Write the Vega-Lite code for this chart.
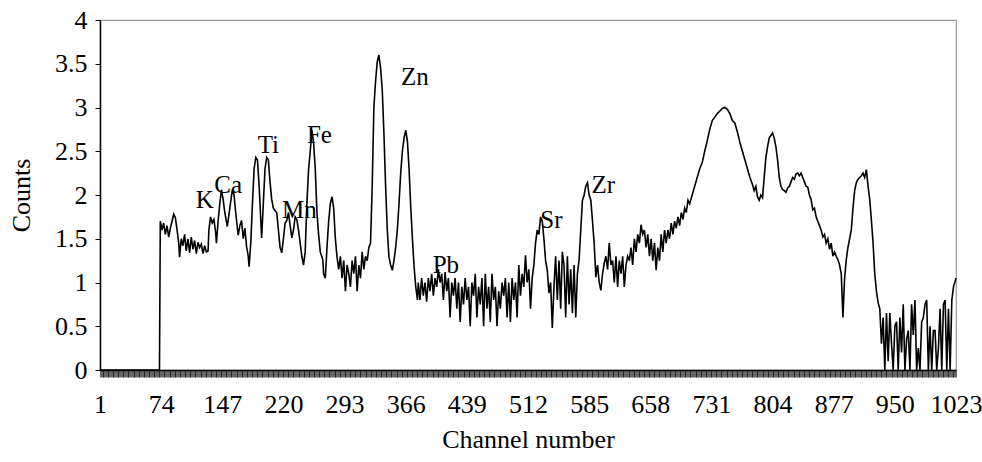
{
"$schema":"https://vega.github.io/schema/vega-lite/v6.json",
"width":856,"height":350,
"autosize":"none",
"padding":{"left":100,"top":20,"right":26,"bottom":92},
"background":"white",
"config":{"view":{"stroke":"#999","strokeWidth":1.2},"font":"Liberation Serif"},
"datasets":{
"spectrum":[
{"ch":1,"v":0},{"ch":72,"v":0},{"ch":73,"v":1.7},{"ch":75,"v":1.6},{"ch":77,"v":1.68},{"ch":79,"v":1.55},{"ch":81,"v":1.65},{"ch":83,"v":1.52},{"ch":85,"v":1.62},{"ch":87,"v":1.7},{"ch":89,"v":1.78},{"ch":91,"v":1.74},{"ch":93,"v":1.6},{"ch":95,"v":1.45},{"ch":96,"v":1.29},{"ch":98,"v":1.5},{"ch":100,"v":1.42},{"ch":102,"v":1.55},{"ch":104,"v":1.36},{"ch":106,"v":1.5},{"ch":108,"v":1.34},{"ch":110,"v":1.52},{"ch":112,"v":1.38},{"ch":114,"v":1.48},{"ch":116,"v":1.33},{"ch":118,"v":1.46},{"ch":120,"v":1.4},{"ch":122,"v":1.44},{"ch":124,"v":1.33},{"ch":126,"v":1.42},{"ch":128,"v":1.35},{"ch":130,"v":1.36},
{"ch":131,"v":1.6},{"ch":133,"v":1.75},{"ch":135,"v":1.68},{"ch":137,"v":1.72},{"ch":139,"v":1.58},{"ch":140,"v":1.45},{"ch":142,"v":1.7},{"ch":144,"v":1.9},{"ch":146,"v":2.06},{"ch":148,"v":1.95},{"ch":150,"v":1.8},{"ch":153,"v":1.64},{"ch":156,"v":1.85},{"ch":159,"v":2.06},{"ch":161,"v":2.0},{"ch":163,"v":1.8},{"ch":166,"v":1.54},{"ch":168,"v":1.65},{"ch":170,"v":1.71},{"ch":172,"v":1.5},{"ch":174,"v":1.62},{"ch":176,"v":1.41},{"ch":178,"v":1.3},{"ch":179,"v":1.18},{"ch":181,"v":1.45},{"ch":183,"v":1.9},{"ch":185,"v":2.3},{"ch":187,"v":2.43},{"ch":189,"v":2.4},{"ch":191,"v":2.1},{"ch":194,"v":1.51},{"ch":196,"v":1.9},{"ch":198,"v":2.3},{"ch":200,"v":2.43},{"ch":202,"v":2.4},{"ch":204,"v":2.15},{"ch":206,"v":1.95},{"ch":208,"v":1.85},{"ch":210,"v":1.82},{"ch":212,"v":1.8},{"ch":214,"v":1.6},{"ch":216,"v":1.4},{"ch":218,"v":1.34},{"ch":220,"v":1.5},{"ch":222,"v":1.68},{"ch":224,"v":1.71},{"ch":226,"v":1.8},{"ch":228,"v":1.65},{"ch":230,"v":1.51},{"ch":232,"v":1.6},{"ch":234,"v":1.75},{"ch":236,"v":1.72},{"ch":238,"v":1.6},{"ch":240,"v":1.45},{"ch":242,"v":1.3},{"ch":244,"v":1.2},{"ch":246,"v":1.35},{"ch":248,"v":1.9},{"ch":250,"v":2.29},{"ch":252,"v":2.5},{"ch":254,"v":2.74},{"ch":256,"v":2.6},{"ch":258,"v":2.3},{"ch":260,"v":1.8},{"ch":262,"v":1.55},{"ch":264,"v":1.35},{"ch":267,"v":1.26},{"ch":268,"v":1.1},{"ch":270,"v":1.05},{"ch":272,"v":1.4},{"ch":274,"v":1.7},{"ch":276,"v":1.9},{"ch":278,"v":1.98},{"ch":280,"v":1.85},{"ch":282,"v":1.5},{"ch":284,"v":1.29},{"ch":286,"v":1.15},{"ch":288,"v":1.3},{"ch":290,"v":1.05},{"ch":292,"v":1.25},{"ch":294,"v":0.9},{"ch":296,"v":1.2},{"ch":298,"v":1.1},{"ch":300,"v":0.95},{"ch":302,"v":1.25},{"ch":304,"v":1.1},{"ch":306,"v":1.3},{"ch":308,"v":0.9},{"ch":310,"v":1.2},{"ch":312,"v":1.05},{"ch":314,"v":1.35},{"ch":316,"v":1.15},{"ch":318,"v":1.3},{"ch":320,"v":1.25},{"ch":322,"v":1.4},{"ch":324,"v":1.45},{"ch":326,"v":2.1},{"ch":328,"v":3.0},{"ch":330,"v":3.3},{"ch":332,"v":3.52},{"ch":334,"v":3.6},{"ch":336,"v":3.45},{"ch":338,"v":3.2},{"ch":340,"v":2.7},{"ch":342,"v":2.1},{"ch":344,"v":1.6},{"ch":346,"v":1.29},{"ch":348,"v":1.2},{"ch":350,"v":1.14},{"ch":352,"v":1.25},{"ch":354,"v":1.4},{"ch":356,"v":1.6},{"ch":358,"v":1.9},{"ch":360,"v":2.25},{"ch":362,"v":2.5},{"ch":364,"v":2.65},{"ch":366,"v":2.74},{"ch":368,"v":2.62},{"ch":370,"v":2.3},{"ch":372,"v":1.86},{"ch":374,"v":1.5},{"ch":376,"v":1.18},{"ch":378,"v":0.95},{"ch":380,"v":0.8},
{"ch":381,"v":1.0},{"ch":383,"v":0.8},{"ch":385,"v":1.05},{"ch":387,"v":0.85},{"ch":389,"v":1.0},{"ch":391,"v":0.78},{"ch":393,"v":1.05},{"ch":395,"v":0.9},{"ch":397,"v":1.1},{"ch":399,"v":0.85},{"ch":401,"v":1.05},{"ch":403,"v":0.95},{"ch":405,"v":1.15},{"ch":407,"v":1.0},{"ch":409,"v":1.1},{"ch":411,"v":0.8},{"ch":413,"v":1.12},{"ch":415,"v":0.9},{"ch":417,"v":1.05},{"ch":419,"v":0.6},{"ch":421,"v":1.0},{"ch":423,"v":0.85},{"ch":425,"v":1.05},{"ch":427,"v":0.7},{"ch":429,"v":1.0},{"ch":431,"v":0.55},{"ch":433,"v":0.95},{"ch":435,"v":0.75},{"ch":437,"v":1.05},{"ch":439,"v":0.8},{"ch":441,"v":0.95},{"ch":443,"v":0.5},{"ch":445,"v":1.0},{"ch":447,"v":0.85},{"ch":449,"v":1.1},{"ch":451,"v":0.6},{"ch":453,"v":0.95},{"ch":455,"v":0.75},{"ch":457,"v":1.05},{"ch":459,"v":0.5},{"ch":461,"v":1.1},{"ch":463,"v":0.7},{"ch":465,"v":0.95},{"ch":467,"v":0.55},{"ch":469,"v":1.1},{"ch":471,"v":0.8},{"ch":473,"v":0.95},{"ch":475,"v":0.5},{"ch":477,"v":0.9},{"ch":479,"v":0.7},{"ch":481,"v":1.0},{"ch":483,"v":0.85},{"ch":485,"v":1.05},{"ch":487,"v":0.6},{"ch":489,"v":1.0},{"ch":491,"v":0.55},{"ch":493,"v":1.05},{"ch":495,"v":0.8},{"ch":497,"v":1.0},{"ch":499,"v":0.6},{"ch":501,"v":1.2},{"ch":503,"v":0.85},{"ch":505,"v":1.1},{"ch":507,"v":0.95},{"ch":509,"v":1.31},{"ch":511,"v":1.0},{"ch":513,"v":1.15},{"ch":515,"v":0.7},{"ch":517,"v":1.05},{"ch":519,"v":1.2},{"ch":521,"v":1.45},{"ch":523,"v":1.6},{"ch":525,"v":1.55},{"ch":527,"v":1.75},{"ch":529,"v":1.7},{"ch":531,"v":1.5},{"ch":533,"v":1.25},{"ch":535,"v":1.14},{"ch":537,"v":0.88},{"ch":539,"v":1.0},{"ch":541,"v":0.48},{"ch":543,"v":0.95},{"ch":545,"v":1.3},{"ch":547,"v":0.8},{"ch":549,"v":1.25},{"ch":551,"v":0.7},{"ch":553,"v":1.35},{"ch":555,"v":1.2},{"ch":557,"v":0.6},{"ch":559,"v":1.3},{"ch":561,"v":0.75},{"ch":563,"v":1.15},{"ch":565,"v":0.65},{"ch":567,"v":1.2},{"ch":569,"v":0.6},{"ch":571,"v":1.1},{"ch":573,"v":1.26},{"ch":575,"v":1.6},{"ch":577,"v":1.94},{"ch":579,"v":2.0},{"ch":581,"v":2.1},{"ch":583,"v":2.14},{"ch":585,"v":2.0},{"ch":587,"v":1.94},{"ch":589,"v":1.7},{"ch":591,"v":1.45},{"ch":593,"v":1.06},{"ch":595,"v":1.2},{"ch":597,"v":1.0},{"ch":599,"v":0.91},{"ch":601,"v":1.1},{"ch":603,"v":1.22},{"ch":605,"v":1.3},{"ch":607,"v":1.15},{"ch":609,"v":1.45},{"ch":611,"v":1.2},{"ch":613,"v":1.25},{"ch":615,"v":1.0},{"ch":617,"v":1.3},{"ch":619,"v":0.95},{"ch":621,"v":1.25},{"ch":623,"v":1.1},{"ch":625,"v":1.3},{"ch":627,"v":0.95},{"ch":629,"v":1.2},{"ch":631,"v":1.3},{"ch":633,"v":1.25},{"ch":635,"v":1.4},{"ch":637,"v":1.2},{"ch":639,"v":1.5},{"ch":641,"v":1.35},{"ch":643,"v":1.55},{"ch":645,"v":1.45},{"ch":647,"v":1.66},{"ch":649,"v":1.55},{"ch":651,"v":1.6},{"ch":653,"v":1.4},{"ch":655,"v":1.55},{"ch":657,"v":1.3},{"ch":659,"v":1.5},{"ch":661,"v":1.25},{"ch":663,"v":1.45},{"ch":665,"v":1.14},{"ch":667,"v":1.4},{"ch":669,"v":1.25},{"ch":671,"v":1.55},{"ch":673,"v":1.35},{"ch":675,"v":1.6},{"ch":677,"v":1.45},{"ch":679,"v":1.6},{"ch":681,"v":1.5},{"ch":683,"v":1.68},{"ch":685,"v":1.55},{"ch":687,"v":1.7},{"ch":689,"v":1.62},{"ch":691,"v":1.75},{"ch":693,"v":1.65},{"ch":695,"v":1.8},{"ch":697,"v":1.72},{"ch":699,"v":1.85},{"ch":701,"v":1.8},{"ch":703,"v":1.94},{"ch":705,"v":1.9},{"ch":708,"v":2.0},{"ch":711,"v":2.1},{"ch":714,"v":2.2},{"ch":717,"v":2.3},{"ch":720,"v":2.37},{"ch":723,"v":2.5},{"ch":726,"v":2.62},{"ch":729,"v":2.75},{"ch":732,"v":2.85},{"ch":735,"v":2.89},{"ch":738,"v":2.93},{"ch":741,"v":2.96},{"ch":744,"v":2.99},{"ch":747,"v":3.0},{"ch":750,"v":2.98},{"ch":753,"v":2.93},{"ch":756,"v":2.85},{"ch":759,"v":2.82},{"ch":762,"v":2.72},{"ch":765,"v":2.6},{"ch":768,"v":2.5},{"ch":771,"v":2.4},{"ch":774,"v":2.3},{"ch":777,"v":2.2},{"ch":780,"v":2.12},{"ch":782,"v":2.05},{"ch":784,"v":2.1},{"ch":786,"v":1.98},{"ch":788,"v":1.94},{"ch":790,"v":2.0},{"ch":792,"v":1.97},{"ch":794,"v":2.2},{"ch":796,"v":2.43},{"ch":798,"v":2.55},{"ch":800,"v":2.65},{"ch":802,"v":2.68},{"ch":804,"v":2.71},{"ch":806,"v":2.65},{"ch":808,"v":2.55},{"ch":810,"v":2.4},{"ch":812,"v":2.2},{"ch":814,"v":2.1},{"ch":816,"v":2.06},{"ch":818,"v":2.05},{"ch":820,"v":2.03},{"ch":822,"v":2.08},{"ch":824,"v":2.1},{"ch":826,"v":2.15},{"ch":828,"v":2.2},{"ch":830,"v":2.18},{"ch":832,"v":2.24},{"ch":834,"v":2.25},{"ch":836,"v":2.22},{"ch":838,"v":2.25},{"ch":840,"v":2.2},{"ch":842,"v":2.15},{"ch":844,"v":2.1},{"ch":846,"v":2.09},{"ch":848,"v":2.0},{"ch":850,"v":1.95},{"ch":852,"v":1.83},{"ch":854,"v":1.85},{"ch":856,"v":1.75},{"ch":858,"v":1.7},{"ch":860,"v":1.65},{"ch":862,"v":1.6},{"ch":864,"v":1.52},{"ch":866,"v":1.55},{"ch":868,"v":1.45},{"ch":870,"v":1.5},{"ch":872,"v":1.38},{"ch":874,"v":1.45},{"ch":876,"v":1.3},{"ch":878,"v":1.35},{"ch":880,"v":1.3},{"ch":882,"v":1.26},{"ch":884,"v":1.2},{"ch":886,"v":1.1},{"ch":888,"v":0.6},{"ch":890,"v":1.05},{"ch":892,"v":1.26},{"ch":894,"v":1.4},{"ch":896,"v":1.5},{"ch":898,"v":1.6},{"ch":900,"v":1.85},{"ch":902,"v":2.05},{"ch":904,"v":2.14},{"ch":906,"v":2.18},{"ch":908,"v":2.2},{"ch":910,"v":2.22},{"ch":912,"v":2.25},{"ch":914,"v":2.2},{"ch":916,"v":2.29},{"ch":918,"v":2.1},{"ch":920,"v":1.95},{"ch":922,"v":1.71},{"ch":924,"v":1.45},{"ch":926,"v":1.1},{"ch":928,"v":0.9},{"ch":930,"v":0.77},
{"ch":932,"v":0.7},{"ch":934,"v":0.3},{"ch":936,"v":0.6},{"ch":938,"v":0.0},{"ch":940,"v":0.65},{"ch":942,"v":0.1},{"ch":944,"v":0.65},{"ch":946,"v":0.3},{"ch":948,"v":0.0},{"ch":950,"v":0.5},{"ch":952,"v":0.55},{"ch":954,"v":0.0},{"ch":956,"v":0.6},{"ch":958,"v":0.2},{"ch":960,"v":0.75},{"ch":962,"v":0.0},{"ch":964,"v":0.35},{"ch":966,"v":0.45},{"ch":968,"v":0.0},{"ch":970,"v":0.75},{"ch":972,"v":0.4},{"ch":974,"v":0.8},{"ch":976,"v":0.0},{"ch":978,"v":0.25},{"ch":980,"v":0.0},{"ch":982,"v":0.55},{"ch":984,"v":0.6},{"ch":986,"v":0.75},{"ch":988,"v":0.8},{"ch":990,"v":0.0},{"ch":992,"v":0.5},{"ch":994,"v":0.0},{"ch":996,"v":0.45},{"ch":998,"v":0.45},{"ch":1000,"v":0.0},{"ch":1002,"v":0.25},{"ch":1004,"v":0.7},{"ch":1006,"v":0.0},{"ch":1008,"v":0.75},{"ch":1010,"v":0.8},{"ch":1012,"v":0.0},{"ch":1014,"v":0.7},{"ch":1016,"v":0.0},{"ch":1018,"v":0.8},{"ch":1020,"v":0.95},{"ch":1023,"v":1.05}
],
"labels":[
{"element":"K","ch":126,"v":1.94},
{"element":"Ca","ch":154,"v":2.11},
{"element":"Ti","ch":202,"v":2.57},
{"element":"Fe","ch":263,"v":2.69},
{"element":"Mn","ch":239,"v":1.83},
{"element":"Zn","ch":377,"v":3.35},
{"element":"Pb","ch":414,"v":1.2},
{"element":"Sr","ch":540,"v":1.71},
{"element":"Zr","ch":602,"v":2.11}
]
},
"layer":[
{"data":{"name":"spectrum"},
 "mark":{"type":"line","color":"black","strokeWidth":1.6},
 "encoding":{
  "x":{"field":"ch","type":"quantitative","scale":{"domain":[1,1023],"nice":false,"zero":false},
   "axis":{"title":"Channel number","tickCount":1023,"format":"d","labelExpr":"(datum.value-1)%73==0 ? datum.label : ''","labelOverlap":false,"labelFlush":false,"labelBound":false,"tickSize":7,"tickColor":"black","tickWidth":0.6,"domainColor":"black","domainWidth":1.5,"grid":false,"labelFontSize":26,"labelPadding":14,"labelColor":"black","labelFont":"Liberation Serif","titleFont":"Liberation Serif","titleFontSize":26,"titleFontWeight":"normal","titleColor":"black","titlePadding":9}},
  "y":{"field":"v","type":"quantitative","scale":{"domain":[0,4],"nice":false},
   "axis":{"title":"Counts","values":[0,0.5,1,1.5,2,2.5,3,3.5,4],"format":"~g","tickSize":5,"tickColor":"black","domainColor":"black","domainWidth":1.5,"grid":false,"labelFontSize":26,"labelPadding":8,"labelColor":"black","labelFont":"Liberation Serif","titleFont":"Liberation Serif","titleFontSize":26,"titleFontWeight":"normal","titleColor":"black","titlePadding":20}}
 }},
{"data":{"name":"labels"},
 "mark":{"type":"text","fontSize":25,"font":"Liberation Serif","color":"black","align":"center","baseline":"middle"},
 "encoding":{
  "x":{"field":"ch","type":"quantitative"},
  "y":{"field":"v","type":"quantitative"},
  "text":{"field":"element"}
 }}
]
}
